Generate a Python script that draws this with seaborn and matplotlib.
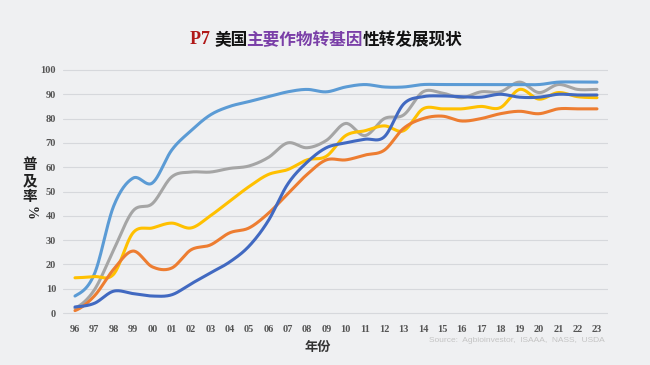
import numpy as np
import pandas as pd
import seaborn as sns
import matplotlib.pyplot as plt

# years 1996-2023, shown as two-digit labels
years = ['96', '97', '98', '99', '00', '01', '02', '03', '04', '05', '06', '07', '08', '09',
         '10', '11', '12', '13', '14', '15', '16', '17', '18', '19', '20', '21', '22', '23']

# adoption rate (%) per series
light_blue = [7, 16, 44, 55.5, 53.5, 67, 75, 81.5, 85, 87, 89, 91, 92, 91,
              93, 94, 93, 93, 94, 94, 94, 94, 94, 94, 94, 95, 95, 95]
gray = [2, 9.5, 26, 42, 45, 56, 58, 58, 59.5, 60.5, 64, 70, 68, 71,
        78, 73, 80, 81.5, 91, 90.5, 88.6, 91, 91, 95, 90.7, 94, 92, 92]
yellow = [14.5, 15, 16, 33, 35, 37, 35, 40, 46, 52, 57, 59, 63, 64.5,
          73, 75, 77, 75, 84, 84, 84, 85, 84.5, 92, 88, 90.7, 89, 88.6]
orange = [1, 7, 18, 25.5, 19, 18.5, 26, 28, 33, 35, 41, 49, 57, 63,
          63, 65, 67, 76, 80, 81, 79, 80, 82, 83, 82, 84, 84, 84]
dark_blue = [2.5, 4, 9, 8, 7, 7.5, 12, 16.5, 21, 27.5, 38, 53, 62, 68,
             70, 71.5, 72.5, 86, 89, 89.3, 89, 88.8, 90, 88.8, 88.8, 90, 89.7, 89.7]

series = [
    (gray, '#A5A5A5'),
    (light_blue, '#5B9BD5'),
    (yellow, '#FFC000'),
    (orange, '#ED7D31'),
    (dark_blue, '#4169C1'),
]


def smooth(y, n=24):
    # Catmull-Rom curve through the points, like a spreadsheet "smoothed line"
    p = np.asarray(y, dtype=float)
    p = np.concatenate([[p[0]], p, [p[-1]]])
    xs, ys = [], []
    for i in range(1, len(p) - 2):
        t = np.linspace(0, 1, n, endpoint=False)
        p0, p1, p2, p3 = p[i - 1], p[i], p[i + 1], p[i + 2]
        v = 0.5 * (2 * p1 + (-p0 + p2) * t + (2 * p0 - 5 * p1 + 4 * p2 - p3) * t ** 2
                   + (-p0 + 3 * p1 - 3 * p2 + p3) * t ** 3)
        xs.append(i - 1 + t)
        ys.append(v)
    xs.append([len(p) - 3])
    ys.append([p[-2]])
    return np.concatenate(xs), np.concatenate(ys)


sns.set_style('white')
plt.rcParams['font.family'] = ['Liberation Serif', 'Noto Sans CJK SC', 'DejaVu Sans']

bg = '#EFF0F2'
fig = plt.figure(figsize=(6.5, 3.65), dpi=100, facecolor=bg)
ax = fig.add_axes([63 / 650, (365 - 317.9) / 365, 545 / 650, (317.9 - 65.1) / 365])
ax.set_facecolor(bg)

for vals, col in series:
    sx, sy = smooth(vals)
    df = pd.DataFrame({'x': sx, 'y': sy})
    sns.lineplot(data=df, x='x', y='y', color=col, linewidth=2.2, ax=ax,
                 sort=False, solid_capstyle='round')

ax.set_xlim(-0.62, 27.57)
ax.set_ylim(-2, 102)
ax.set_yticks(range(0, 101, 10))
ax.set_xticks(range(len(years)))
ax.set_xticklabels(years)
ax.yaxis.grid(True, color='#D6D8DC', linewidth=0.8)
ax.set_axisbelow(True)
for s in ax.spines.values():
    s.set_visible(False)
ax.tick_params(axis='both', length=0, labelsize=7.5, labelcolor='#555555')
ax.tick_params(axis='x', pad=5)
ax.tick_params(axis='y', pad=5)
for lab in ax.get_xticklabels() + ax.get_yticklabels():
    lab.set_fontweight('bold')
ax.set_xlabel('')
ax.set_ylabel('')

# vertical axis title: stacked characters, "%" rotated
fig.text(30 / 650, 1 - 180 / 365, '普\n及\n率', ha='center', va='center',
         fontsize=10.5, fontweight='bold', family=['Noto Sans CJK SC'],
         color='#222222', linespacing=1.0)
fig.text(30 / 650, 1 - 213 / 365, '%', ha='center', va='center', rotation=-90,
         fontsize=10, fontweight='bold', color='#222222')

fig.text(318 / 650, 1 - 347 / 365, '年份', ha='center', va='center',
         fontsize=9.5, fontweight='bold', family=['Noto Sans CJK SC'], color='#333333')
fig.text(605 / 650, 1 - 341 / 365, 'Source:  Agbioinvestor,  ISAAA,  NASS,  USDA',
         ha='right', va='center', fontsize=6, family=['Liberation Sans'], color='#C4C4C4')

# multi-coloured title
parts = [('P7 ', '#B01818', ['Liberation Serif'], 0),
         ('美国', '#111111', ['Noto Sans CJK SC'], 0),
         ('主要作物转基因', '#7A3FA8', ['Noto Sans CJK SC'], -1),
         ('性转发展现状', '#111111', ['Noto Sans CJK SC'], 0)]
t = fig.text(190 / 650, 1 - 40 / 365, parts[0][0], ha='left', va='center',
             fontsize=13, fontweight='bold', color=parts[0][1], family=parts[0][2])
for txt, col, fam, dx in parts[1:]:
    t = ax.annotate(txt, xy=(1, 0.5), xycoords=t, xytext=(dx, 0),
                    textcoords='offset points', ha='left', va='center',
                    fontsize=12, fontweight='bold', color=col, family=fam,
                    annotation_clip=False)

fig.savefig('out.png', dpi=100, facecolor=bg)
